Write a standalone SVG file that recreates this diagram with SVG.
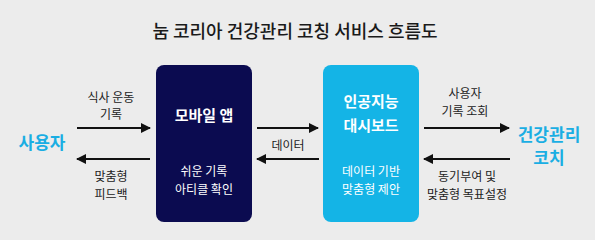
<svg xmlns="http://www.w3.org/2000/svg" width="595" height="240" viewBox="0 0 595 240">
<style>
text{font-family:"Noto Sans CJK KR","Noto Sans",sans-serif;text-anchor:middle}
.title{font-size:18px;font-weight:500;fill:#1a1a1a}
.lbl{font-size:12px;fill:#222}
.head{font-size:15px;font-weight:700;fill:#fff}
.sub{font-size:12px;fill:#fff}
.actor{font-size:17px;font-weight:700;fill:#1aaee3}
.line{stroke:#111;stroke-width:2;fill:none}
</style>
<defs>
<marker id="ah" viewBox="0 0 10 10" refX="9" refY="5" markerWidth="5" markerHeight="5" orient="auto" markerUnits="strokeWidth">
<path d="M0,0 L10,5 L0,10 z" fill="#111"/>
</marker>
</defs>
<rect width="595" height="240" fill="#ececec"/>
<text class="title" x="295" y="38">눔 코리아 건강관리 코칭 서비스 흐름도</text>

<g id="user">
<text class="actor" x="42" y="149">사용자</text>
</g>
<g id="coach">
<text class="actor" x="549" y="141">건강관리</text>
<text class="actor" x="549" y="164">코치</text>
</g>
<g id="mobile-app">
<rect x="156" y="65" width="96" height="157" rx="8" fill="#0b0b50"/>
<text class="head" x="204" y="121">모바일 앱</text>
<text class="sub" x="204" y="176">쉬운 기록</text>
<text class="sub" x="204" y="194">아티클 확인</text>
</g>
<g id="ai-dashboard">
<rect x="323" y="65" width="96" height="157" rx="8" fill="#14b4e6"/>
<text class="head" x="371" y="107">인공지능</text>
<text class="head" x="371" y="131">대시보드</text>
<text class="sub" x="371" y="176">데이터 기반</text>
<text class="sub" x="371" y="194">맞춤형 제안</text>
</g>

<g id="connectors">
<line class="line" x1="77" y1="128" x2="150" y2="128" marker-end="url(#ah)"/>
<line class="line" x1="150" y1="159" x2="77" y2="159" marker-end="url(#ah)"/>
<line class="line" x1="257" y1="128" x2="318" y2="128" marker-end="url(#ah)"/>
<line class="line" x1="319" y1="159" x2="257" y2="159" marker-end="url(#ah)"/>
<line class="line" x1="424" y1="128" x2="509" y2="128" marker-end="url(#ah)"/>
<line class="line" x1="510" y1="159" x2="424" y2="159" marker-end="url(#ah)"/>
<text class="lbl" x="111" y="102">식사 운동</text>
<text class="lbl" x="111" y="119">기록</text>
<text class="lbl" x="111" y="181">맞춤형</text>
<text class="lbl" x="111" y="199">피드백</text>
<text class="lbl" x="288" y="150">데이터</text>
<text class="lbl" x="465" y="98">사용자</text>
<text class="lbl" x="465" y="116">기록 조회</text>
<text class="lbl" x="467" y="181">동기부여 및</text>
<text class="lbl" x="467" y="199">맞춤형 목표설정</text>
</g>
</svg>
